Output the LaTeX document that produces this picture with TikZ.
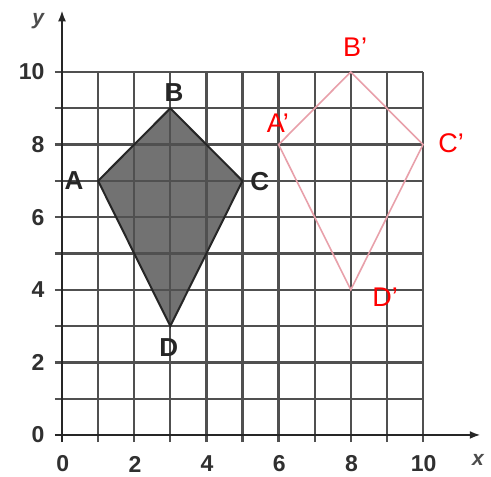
\documentclass[tikz,border=0pt]{standalone}
\usepackage{fontspec}
\setmainfont{Liberation Sans}
\usetikzlibrary{arrows.meta}
\definecolor{gridc}{HTML}{505050}
\definecolor{kitefill}{HTML}{727272}
\definecolor{pinkline}{HTML}{E8A0AA}
\definecolor{ticktxt}{HTML}{303030}
\tikzset{
  gridline/.style={draw=gridc,line width=2.3pt},
  axisline/.style={draw=black!85,line width=2.6pt,-{Latex[length=11pt,width=8pt]}},
  ticklab/.style={font=\bfseries\fontsize{23}{23}\selectfont,text=ticktxt,inner sep=0pt},
  blacklab/.style={font=\bfseries\fontsize{26}{26}\selectfont,text=black!85,inner sep=0pt},
  redlab/.style={font=\fontsize{27}{27}\selectfont,text=red,inner sep=0pt},
  axislab/.style={font=\bfseries\itshape\fontsize{21}{21}\selectfont,text=black!70,inner sep=0pt},
}
\begin{document}
\begin{tikzpicture}[x=36.1pt,y=36.3pt]
\useasboundingbox[fill=white] (-1.7175,-1.157) rectangle (11.884,11.983);
% points
\coordinate (A) at (1,7);
\coordinate (B) at (3,9);
\coordinate (C) at (5,7);
\coordinate (D) at (3,3);
\coordinate (A2) at (6,8);
\coordinate (B2) at (8,10);
\coordinate (C2) at (10,8);
\coordinate (D2) at (8,4);
% kite fill
\fill[kitefill] (A) -- (B) -- (C) -- (D) -- cycle;
% grid
\foreach \i in {1,...,10} {
  \draw[gridline] (\i,-0.2) -- (\i,10);
  \draw[gridline] (-0.2,\i) -- (10,\i);
}
% axes
\coordinate (O) at (0,0);
\coordinate (Xend) at (11.6,0);
\coordinate (Yend) at (0,11.7);
\coordinate (Xstart) at (-0.2,0);
\coordinate (Ystart) at (0,-0.2);
\draw[axisline] (Xstart) -- (Xend);
\draw[axisline] (Ystart) -- (Yend);
% kite outline
\draw[black!85,line width=2pt,line join=miter] (A) -- (B) -- (C) -- (D) -- cycle;
% red kite
\draw[pinkline,line width=1.6pt] (A2) -- (B2) -- (C2) -- (D2) -- cycle;
% tick labels
\foreach \v in {0,2,4,6,8,10} {
  \node[ticklab,anchor=east] (yl\v) at (-0.48,\v) {\v};
  \node[ticklab] (xl\v) at (\v+0.02,-0.8) {\v};
}
\node[axislab] (ylab) at (-0.66,11.4) {y};
\node[axislab] (xlab) at (11.52,-0.69) {x};
% labels
\node[blacklab] (lA) at (0.33,7.02) {A};
\node[blacklab] (lB) at (3.10,9.42) {B};
\node[blacklab] (lC) at (5.48,6.97) {C};
\node[blacklab] (lD) at (2.96,2.40) {D};
\node[redlab] (lA2) at (5.98,8.60) {A’};
\node[redlab] (lB2) at (8.12,10.69) {B’};
\node[redlab] (lC2) at (10.78,8.04) {C’};
\node[redlab] (lD2) at (8.95,3.80) {D’};
\end{tikzpicture}
\end{document}
